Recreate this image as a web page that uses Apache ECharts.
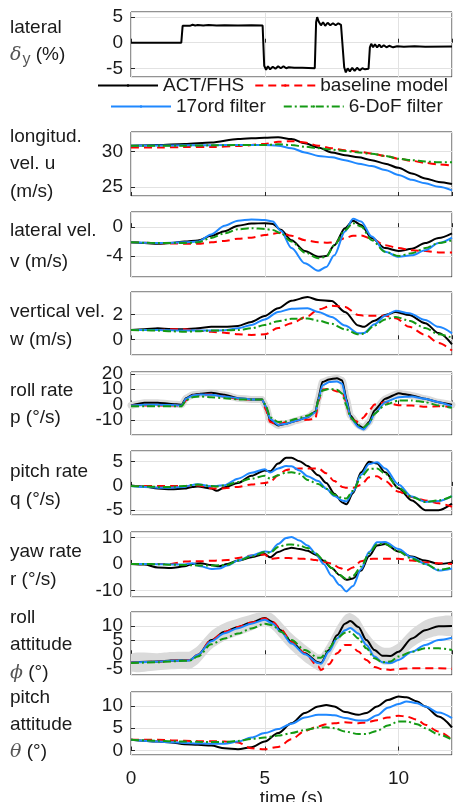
<!DOCTYPE html>
<html><head><meta charset="utf-8">
<script src="https://cdn.jsdelivr.net/npm/echarts@6/dist/echarts.min.js"></script>
<style>html,body{margin:0;padding:0;background:#fff}#c{width:462px;height:802px}</style>
</head><body><div id="c"></div>
<script>
// ---------- data ----------
const dyTime = [0,1.88,1.93,1.98,2.05,2.12,2.2,2.3,2.4,2.5,2.7,2.9,3.2,3.5,4.0,4.5,4.92,4.98,5.05,5.12,5.2,5.3,5.4,5.5,5.6,5.7,5.8,5.9,6.1,6.4,6.87,6.92,6.96,7.02,7.1,7.18,7.26,7.35,7.45,7.55,7.65,7.75,7.85,7.92,7.97,8.03,8.1,8.18,8.27,8.36,8.45,8.55,8.65,8.75,8.88,8.93,8.98,9.05,9.12,9.2,9.28,9.36,9.45,9.55,9.65,9.8,9.95,10.2,10.6,11,12];
const dyVal = [0,0,3.3,3.6,3.3,3.5,3.3,3.5,3.35,3.45,3.35,3.45,3.35,3.4,3.35,3.4,3.35,-4.5,-5.3,-4.6,-5.2,-4.7,-5.1,-4.6,-5.0,-4.6,-5.0,-4.8,-4.9,-4.9,-5.0,4.0,5.0,4.1,3.4,4.0,3.3,3.9,3.4,3.8,3.4,3.8,3.5,3.6,-4.8,-5.8,-5.0,-5.6,-4.9,-5.5,-4.9,-5.4,-5.0,-5.2,-5.1,-0.9,-0.2,-0.9,-0.3,-0.9,-0.4,-0.9,-0.5,-0.9,-0.6,-0.9,-0.7,-0.8,-0.7,-0.8,-0.75];

const uTime = [0,1,2,3,4,5,5.5,6,6.5,7,7.5,8,8.5,9,9.5,10,10.5,11,11.5,12];
const uAct  = [30.86,30.95,31.1,31.3,31.8,32.0,32.05,31.8,31.2,30.6,29.9,29.5,29.2,28.8,28.3,27.7,26.9,26.2,25.7,25.4];
const uBase = [30.6,30.6,30.65,30.65,30.8,31.1,31.4,31.5,31.3,30.86,30.5,30.2,30.0,29.75,29.4,29.0,28.7,28.4,28.2,28.0];
const u17   = [30.86,30.88,30.9,30.92,30.95,30.95,30.86,30.5,29.9,29.4,29.2,28.8,28.3,27.95,27.4,26.7,26.0,25.5,25.0,24.5];
const u6    = [30.86,30.86,30.86,30.9,30.95,30.95,31.05,30.95,30.7,30.5,30.3,30.1,29.9,29.7,29.4,29.0,28.8,28.6,28.5,28.5];

const vTime = [0,0.5,1,1.5,2,2.5,3,3.5,4,4.5,5,5.3,5.6,6,6.5,7,7.3,7.6,8,8.3,8.6,9,9.5,10,10.5,11,11.5,12];
const vAct  = [-2.1,-2.2,-2.3,-2.2,-2.0,-1.85,-1.2,-0.55,0.2,0.5,0.55,0.45,-0.37,-1.8,-3.3,-4.1,-4.0,-2.5,-0.15,0.9,0.3,-1.5,-2.9,-3.3,-3.0,-2.2,-1.5,-0.85];
const vBase = [-2.1,-2.15,-2.2,-2.25,-2.3,-2.3,-2.1,-1.9,-1.6,-1.45,-1.1,-0.9,-0.75,-1.2,-1.8,-2.1,-2.15,-2.1,-1.5,-1.2,-1.15,-1.6,-2.5,-2.9,-3.2,-3.3,-3.5,-3.5];
const v17   = [-2.1,-2.15,-2.2,-2.15,-2.1,-2.0,-1.0,0.2,0.9,1.07,1.0,0.8,-0.5,-2.9,-5.0,-6.05,-5.5,-3.9,-0.6,1.16,0.8,-1.3,-3.4,-4.1,-3.9,-3.2,-2.2,-1.45];
const v6    = [-2.1,-2.15,-2.2,-2.2,-2.2,-2.1,-1.5,-0.85,-0.3,-0.15,-0.25,-0.4,-0.85,-2.0,-3.5,-4.3,-4.1,-2.5,-0.4,0.55,0.1,-1.8,-3.4,-4.0,-3.6,-2.9,-2.2,-1.8];

const wTime = [0,0.5,1,1.5,2,2.5,3,3.5,4,4.5,5,5.5,6,6.6,7,7.5,8,8.5,8.7,9.1,9.5,9.9,10.4,11,11.5,12];
const wAct  = [0.75,0.8,0.88,0.83,0.8,0.88,1.0,1.0,1.07,1.4,1.87,2.5,3.1,3.4,3.15,3.07,2.2,1.1,1.0,1.5,1.95,2.2,1.95,1.3,0.5,-0.4];
const wBase = [0.75,0.75,0.75,0.8,0.8,0.7,0.6,0.53,0.4,0.35,0.4,0.9,1.3,1.85,2.4,2.7,2.6,1.95,1.9,1.9,1.9,1.7,1.0,0.35,-0.3,-0.9];
const w17   = [0.75,0.75,0.75,0.72,0.7,0.7,0.7,0.72,0.88,1.15,1.6,2.2,2.45,2.5,2.2,1.8,1.1,0.48,0.5,1.2,1.9,2.3,2.1,1.55,1.0,0.48];
const w6    = [0.75,0.72,0.7,0.65,0.6,0.65,0.7,0.72,0.75,0.88,1.15,1.45,1.65,1.68,1.5,1.25,0.8,0.4,0.45,1.1,1.6,1.8,1.5,0.9,0.4,0.13];

const pTime = [0,0.5,1,1.5,1.9,2.05,2.3,2.6,3,3.5,4,4.5,4.9,5.05,5.2,5.5,5.8,6.2,6.6,6.9,7.0,7.15,7.4,7.7,7.9,8.05,8.2,8.5,8.7,8.9,9.1,9.5,10,10.5,11,11.5,12];
const pAct  = [-0.65,1.1,1.1,0.4,-0.2,4.1,6.3,7.0,7.6,6.3,4.1,3.3,3.3,-1.7,-10.4,-13.7,-12.6,-10.4,-8.3,-4.6,3.7,14.6,16.3,17.2,15.7,3.7,-7.2,-13.7,-15.4,-11.5,-3.9,3.7,7.4,5.9,3.7,1.5,-0.2];
const pBase = [-0.65,-0.65,-0.65,-0.65,-0.65,2.6,5.9,6.5,6.5,5.2,3.7,3.3,3.3,-3.9,-11.5,-13.3,-11.5,-10.4,-10,-9.3,1.5,9.8,10.2,8.5,8.5,1.5,-9.3,-11.5,-8.3,-4.0,0,1.5,-0.5,-0.7,-1.5,-1.2,-1.5];
const p17   = [-0.65,-0.2,-0.2,-0.4,-0.65,3.7,5.9,6.5,6.3,5.2,4.1,3.3,3.3,-1.7,-9.3,-13.3,-12.6,-10.4,-8.3,-5.0,2.6,12.4,14.6,15.0,13.5,2.6,-8.3,-14.8,-16.3,-12.6,-6.1,1.5,4.8,5.2,3.7,1.5,-1.1];
const p6    = [-1.1,-1.1,-1.1,-1.1,-1.1,2.6,4.8,5.2,4.8,4.1,3.3,3.3,3.3,-1.1,-8.3,-11.5,-11.1,-9.3,-7.2,-4.6,2.6,9.1,10.2,9.6,7.0,-0.65,-8.3,-13.3,-14.8,-12.2,-6.1,-0.2,2.6,2.6,1.5,-0.65,-2.2];

const qTime = [0,0.5,1,1.5,2,2.3,2.5,3,3.2,3.5,4,4.5,5,5.2,5.5,5.8,6,6.3,6.6,7,7.3,7.6,7.9,8.05,8.3,8.6,8.9,9.2,9.5,10,10.5,11,11.5,12];
const qAct  = [0.1,-0.1,-0.55,-0.7,-0.55,-0.2,-0.1,-0.55,-1.0,-0.3,0.6,2.1,3.2,3.0,4.6,5.8,5.8,5.1,4.1,2.2,0.6,-1.6,-3.4,-3.8,-1.5,2.8,5.0,4.6,2.8,-0.5,-3.0,-5.0,-5.0,-3.65];
const qBase = [0,0,0,0,0,0,0.1,-0.5,-0.55,-0.5,-0.2,0.3,0.6,0.8,2.2,3.3,3.5,3.6,3.6,3.6,2.6,1.0,-0.2,-0.4,-0.4,0.2,1.8,2.0,1.0,-1.2,-2.3,-3.0,-3.6,-4.3];
const q17   = [0,-0.2,-0.4,-0.4,-0.2,0.2,0.35,-0.05,0,0.15,1.5,2.7,3.45,2.75,3.6,4.1,4.05,3.2,2.0,1.0,-0.6,-2.1,-3.0,-3.2,-1.2,2.3,4.5,4.9,3.6,0.3,-2.2,-3.3,-3.1,-2.1];
const q6    = [0,-0.1,-0.2,-0.2,0,0.2,0.3,0,-0.1,0.1,0.8,1.5,2.1,1.5,2.2,2.75,2.8,2.5,1.2,0.4,-0.6,-1.8,-2.5,-2.6,-1.0,1.8,3.5,3.6,2.5,-0.4,-2.3,-3.3,-3.0,-2.1];

const rTime = [0,0.5,1,1.5,2,2.3,2.6,3,3.3,3.6,4,4.5,5,5.2,5.5,5.8,6,6.3,6.6,6.9,7.2,7.5,7.8,8.05,8.3,8.6,8.9,9.2,9.5,10,10.5,11,11.5,12];
const rAct  = [0,-0.2,-1.3,-1.5,-0.9,0,0.3,-0.4,-0.9,0,1.3,2.5,3.8,2.5,4.5,5.7,6.1,5.7,5.0,3.5,1.2,-1.5,-4.2,-6.0,-5.5,-2.5,3.0,7.0,7.6,4.7,2.8,1.3,0,0.6];
const rBase = [0,0,0,0,0.9,1.0,1.0,1.2,1.3,1.5,2.3,3.2,3.6,1.9,2.3,2.3,2.2,2.0,1.9,1.5,0.8,0.2,-1.5,-2.5,-1.3,1.0,1.9,2.0,2.0,2.0,1.3,0.6,0.3,0];
const r17   = [0,0,-0.1,-0.2,-0.2,0.3,-0.9,-1.9,-1.7,-0.6,1.3,3.2,4.7,4.5,7.6,9.8,10.2,8.9,7.0,4.0,0,-4.5,-8.0,-10.4,-8.3,-2.0,4.5,8.2,8.3,5.7,2.5,0,-2.5,-1.7];
const r6    = [0,0,-0.1,-0.3,-0.4,-0.5,-0.6,-0.6,-0.5,-0.3,1.3,2.8,4.5,4.2,6.4,7.3,7.4,7.0,6.0,4.0,1.5,-1.5,-4.2,-5.7,-4.5,-1.0,4.0,7.5,7.6,4.7,2.0,0,-2.2,-1.3];

const phiTime = [0,1,1.5,2,2.2,2.5,3,3.5,4,4.5,5,5.3,5.6,6,6.5,7,7.1,7.4,7.7,8.0,8.2,8.5,8.8,9.1,9.4,9.7,10,10.5,11,11.5,12];
const phiAct  = [-2.9,-2.55,-2.2,-2.1,-2.1,-0.2,5.0,7.9,9.65,11.2,12.8,11.4,8.5,4.4,0.35,-2.8,-3.1,1.5,6.7,10.8,11.7,9.65,5.0,1.5,-0.5,-0.6,0.9,5.6,8.5,9.9,10.0];
const phiBase = [-2.9,-2.6,-2.3,-2.1,-2.0,-0.2,5.0,7.9,9.65,11.2,12.6,11.4,8.8,4.4,0.35,-4.3,-5.5,-3.5,0.35,3.3,3.3,1.0,-2.0,-4.5,-5.3,-5.5,-5.2,-4.9,-4.9,-4.9,-5.1];
const phi17   = [-2.9,-2.6,-2.3,-2.2,-2.1,-0.2,4.6,7.4,9.2,10.8,12.2,10.8,7.9,3.8,0,-3.1,-3.3,1.0,5.6,8.5,9.3,7.3,3.3,-0.8,-2.8,-3.1,-2.0,0.9,3.3,5.0,5.8];
const phi6    = [-3.1,-2.8,-2.5,-2.3,-2.2,-0.8,3.5,5.6,7.3,9.1,10.8,10.2,7.9,5.0,1.5,-1.2,-1.2,2.1,5.6,7.6,7.9,5.6,2.1,-1.4,-2.8,-2.55,-0.8,0.9,2.1,2.1,1.5];
// grey uncertainty band around ACT/FHS roll attitude
const phiBandLo = [-6.0,-5.6,-5.3,-5.2,-5.2,-3.4,1.8,4.8,6.6,8.3,10.2,8.6,5.5,1.4,-2.7,-5.8,-6.1,-1.6,3.6,7.8,8.8,6.6,2.0,-1.6,-3.5,-3.6,-2.2,2.3,5.2,6.6,6.7];
const phiBandHi = [0.1,0.4,0.8,0.9,1.0,3.0,8.2,11.0,12.6,14.0,15.3,14.2,11.5,7.4,3.4,0.0,0.0,4.5,9.8,13.8,14.5,12.7,8.0,4.5,2.5,2.4,4.0,8.8,12.0,13.3,13.3];

const thTime = [0,1,1.5,2,2.5,3,3.5,4,4.5,5,5.5,6,6.5,7,7.3,7.6,8,8.5,8.8,9.2,9.6,10,10.3,10.7,11,11.5,12];
const thAct  = [2.4,2.0,1.8,1.4,1.27,1.1,0.5,0.3,0.75,2.0,3.9,6.1,8.4,9.85,10.2,9.85,8.6,8.0,8.4,9.85,11.3,12.1,11.9,11.0,9.85,7.6,5.15];
const thBase = [2.4,2.4,2.3,2.2,2.1,2.1,2.0,1.8,0.5,0.3,0.8,2.5,4.4,5.4,5.9,6.1,6.35,6.1,6.3,6.8,7.4,7.8,7.6,6.9,5.75,4.25,2.4];
const th17   = [2.4,2.0,1.85,1.7,1.6,1.5,1.5,2.0,2.9,3.9,4.8,6.0,7.4,8.0,8.0,7.9,7.3,6.7,6.7,7.9,9.6,10.4,11.0,10.6,9.85,8.5,7.25];
const th6    = [2.4,2.2,2.1,2.0,1.95,1.9,1.9,2.15,2.6,2.9,3.35,3.9,4.6,5.15,5.2,5.0,4.25,3.7,3.7,4.4,5.6,6.5,6.5,5.9,5.0,3.6,2.4];

const seriesNames = ['ACT/FHS','baseline model','17ord filter','6-DoF filter'];
const xTitle = 'time (s)';

// ---------- layout / styles ----------
const FONT = '"Liberation Sans", Arial, Helvetica, sans-serif';
const FS = 19;
const TXT = '#1a1a1a';
const BAND = '#dadada';
const STY = {
  'ACT/FHS':        {color:'#000000', type:'solid', width:2},
  'baseline model': {color:'#ff0000', type:[8,5], width:2},
  '17ord filter':   {color:'#1f88ff', type:'solid', width:2},
  '6-DoF filter':   {color:'#149a14', type:[8,3,2,3], width:2}
};
const panels = [
  {top:12,  h:65, min:-6.7, max:6,    iv:5,  t:dyTime, s:[dyVal], smooth:false},
  {top:132, h:64, min:23.7, max:32.8, iv:5,  t:uTime,  s:[uAct,uBase,u17,u6], smooth:0.3},
  {top:212, h:65, min:-6.9, max:2.1,  iv:4,  t:vTime,  s:[vAct,vBase,v17,v6], smooth:0.3},
  {top:292, h:63, min:-1.26,max:3.8,  iv:2,  t:wTime,  s:[wAct,wBase,w17,w6], smooth:0.3},
  {top:372, h:63, min:-19.9,max:21.2, iv:10, t:pTime,  s:[pAct,pBase,p17,p6], smooth:0.15, thickBand:7},
  {top:451, h:64, min:-6,   max:7.2,  iv:5,  t:qTime,  s:[qAct,qBase,q17,q6], smooth:0.3},
  {top:532, h:65, min:-12.5,max:12.1, iv:10, t:rTime,  s:[rAct,rBase,r17,r6], smooth:0.3},
  {top:612, h:63, min:-7.3, max:14.9, iv:5,  t:phiTime,s:[phiAct,phiBase,phi17,phi6], smooth:0.3, band:[phiBandLo,phiBandHi]},
  {top:692, h:63, min:-1,   max:13.1, iv:5,  t:thTime, s:[thAct,thBase,th17,th6], smooth:0.3}
];

const grids=[], xAxes=[], yAxes=[], series=[];
panels.forEach((p,i)=>{
  grids.push({left:131, top:p.top, width:321, height:p.h, show:true, borderColor:'#262626', borderWidth:1,
    backgroundColor:'rgba(0,0,0,0)', containLabel:false, outerBoundsMode:'none'});
  const last = i===panels.length-1;
  xAxes.push({gridIndex:i, type:'value', min:0, max:12, minInterval:5, maxInterval:5,
    axisLine:{show:false}, axisTick:{show:true, inside:true, length:4, lineStyle:{color:'#262626'}},
    axisLabel:{show:last, showMinLabel:true, showMaxLabel:false, fontSize:FS, fontFamily:FONT, color:TXT, margin:14},
    splitLine:{show:true, lineStyle:{color:'#e2e2e2', width:1}},
    name: last ? xTitle : '', nameLocation:'middle', nameGap:26,
    nameTextStyle:{fontSize:FS, fontFamily:FONT, color:TXT}});
  yAxes.push({gridIndex:i, type:'value', min:p.min, max:p.max, minInterval:p.iv, maxInterval:p.iv, splitNumber:3,
    axisLine:{show:false}, axisTick:{show:true, inside:true, length:4, lineStyle:{color:'#262626'}},
    axisLabel:{show:true, showMinLabel:false, showMaxLabel:false, fontSize:FS, fontFamily:FONT, color:TXT, margin:8},
    splitLine:{show:true, lineStyle:{color:'#e2e2e2', width:1}}});
  if (p.thickBand) {
    series.push({type:'line', name:'band', xAxisIndex:i, yAxisIndex:i, symbol:'none', silent:true, z:1,
      smooth:p.smooth, smoothMonotone:'x',
      lineStyle:{color:BAND, width:p.thickBand, cap:'round', join:'round'},
      data:p.t.map((x,k)=>[x,p.s[0][k]])});
  }
  if (p.band) {
    const [lo,hi] = p.band;
    const tt = p.t;
    series.push({type:'custom', name:'band', xAxisIndex:i, yAxisIndex:i, silent:true, z:1, clip:true,
      data:[[0,0]], encode:{x:0, y:1},
      renderItem:(params, api)=>{
        const pts = [];
        for (let k=0;k<tt.length;k++) pts.push(api.coord([tt[k], hi[k]]));
        for (let k=tt.length-1;k>=0;k--) pts.push(api.coord([tt[k], lo[k]]));
        return {type:'polygon', shape:{points:pts, smooth:0.25}, style:{fill:BAND}};
      }});
  }
  p.s.forEach((vals,j)=>{
    const nm = seriesNames[j];
    const st = STY[nm];
    series.push({type:'line', name:nm, xAxisIndex:i, yAxisIndex:i, symbol:'none', showSymbol:false,
      smooth:p.smooth, smoothMonotone:'x', z:2+j,
      lineStyle:{color:st.color, type:st.type, width:st.width},
      itemStyle:{color:st.color},
      data:p.t.map((x,k)=>[x,vals[k]])});
  });
});

const leftLabels = [
  ['lateral',28], ['{g|δ}{s|y} (%)',55],
  ['longitud.',137], ['vel. u',164], ['(m/s)',192],
  ['lateral vel.',231], ['v (m/s)',262],
  ['vertical vel.',312], ['w (m/s)',340],
  ['roll rate',391], ['p (°/s)',418],
  ['pitch rate',472], ['q (°/s)',500],
  ['yaw rate',552], ['r (°/s)',580],
  ['roll',618], ['attitude',645], ['{g|ϕ} (°)',673],
  ['pitch',698], ['attitude',725], ['{g|θ} (°)',752]
];
const rich = {
  g:{fontStyle:'italic', fontFamily:'"DejaVu Serif", serif', fontSize:FS, fill:'#555', color:'#555'},
  s:{fontFamily:FONT, fontSize:16, fill:'#555', color:'#555', padding:[9,0,0,1]}
};
const graphic = leftLabels.map(([s,y])=>({type:'text', x:10, y:y, silent:true,
  style:{text:s, fontSize:FS, fontFamily:FONT, fill:TXT, verticalAlign:'middle', textVerticalAlign:'middle', rich:rich}}));

const legendCommon = {itemWidth:60, itemHeight:3, selectedMode:false, padding:0,
  textStyle:{fontSize:FS, fontFamily:FONT, color:TXT}};

const chart = echarts.init(document.getElementById('c'), null, {renderer:'canvas'});
chart.setOption({
  animation:false,
  backgroundColor:'#ffffff',
  grid:grids, xAxis:xAxes, yAxis:yAxes, series:series, graphic:graphic,
  legend:[
    Object.assign({data:['ACT/FHS','baseline model'], left:97, top:76, itemGap:10}, legendCommon),
    Object.assign({data:['17ord filter','6-DoF filter'], left:110, top:97, itemGap:17}, legendCommon)
  ]
});
</script></body></html>
